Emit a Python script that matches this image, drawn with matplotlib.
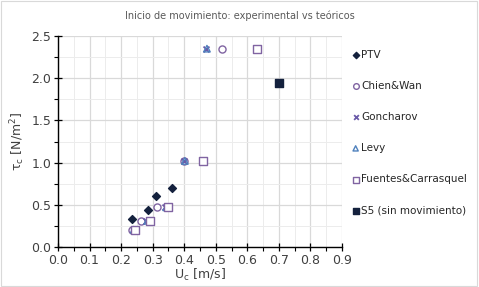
import numpy as np
import matplotlib.pyplot as plt
from matplotlib.ticker import MultipleLocator

# data
ptv_u = [0.233, 0.286, 0.31, 0.362]
ptv_t = [0.33, 0.44, 0.60, 0.70]

chien_u = [0.235, 0.262, 0.314, 0.40, 0.52]
chien_t = [0.205, 0.31, 0.47, 1.02, 2.35]

gonch_u = [0.24, 0.28, 0.34, 0.40, 0.47]
gonch_t = [0.205, 0.31, 0.47, 1.02, 2.35]

levy_u = [0.24, 0.283, 0.343, 0.402, 0.472]
levy_t = [0.205, 0.31, 0.47, 1.02, 2.35]

fuentes_u = [0.245, 0.29, 0.35, 0.46, 0.63]
fuentes_t = [0.205, 0.31, 0.47, 1.02, 2.35]

s5_u = [0.70]
s5_t = [1.94]

fig = plt.figure(figsize=(4.79, 2.87), dpi=100)
ax = fig.add_axes([58/479, 1 - 247/287, (342-58)/479, (247-36)/287])

navy = "#14213d"
purple = "#8064a2"
blue = "#4f81bd"

ax.scatter(ptv_u, ptv_t, marker="D", s=16, color=navy, label="PTV", zorder=3)
ax.scatter(chien_u, chien_t, marker="o", s=26, facecolors="white", edgecolors=purple,
           linewidths=1, label="Chien&Wan", zorder=3)
ax.scatter(gonch_u, gonch_t, marker="x", s=18, color="#6a5aa8", linewidths=1.3,
           label="Goncharov", zorder=3)
ax.scatter(levy_u, levy_t, marker="^", s=22, facecolors="none", edgecolors=blue,
           linewidths=1, label="Levy", zorder=3)
ax.scatter(fuentes_u, fuentes_t, marker="s", s=26, facecolors="white", edgecolors=purple,
           linewidths=1, label="Fuentes&Carrasquel", zorder=3)
ax.scatter(s5_u, s5_t, marker="s", s=30, color=navy, label="S5 (sin movimiento)", zorder=3)

ax.set_xlim(0, 0.9)
ax.set_ylim(0, 2.5)
ax.xaxis.set_major_locator(MultipleLocator(0.1))
ax.xaxis.set_minor_locator(MultipleLocator(0.05))
ax.yaxis.set_major_locator(MultipleLocator(0.5))
ax.yaxis.set_minor_locator(MultipleLocator(0.25))
ax.xaxis.set_major_formatter(lambda v, p: f"{v:.1f}")
ax.yaxis.set_major_formatter(lambda v, p: f"{v:.1f}")
ax.grid(which="major", color="#d9d9d9", lw=0.9)
ax.grid(which="minor", color="#ececec", lw=0.7)
ax.set_axisbelow(True)

for s in ["top", "right"]:
    ax.spines[s].set_visible(False)
for s in ["left", "bottom"]:
    ax.spines[s].set_color("black")
    ax.spines[s].set_linewidth(1.0)
ax.tick_params(which="major", direction="inout", length=6, width=0.9, labelsize=9,
               labelcolor="#404040", pad=2)
ax.tick_params(which="minor", direction="out", length=3, width=0.8)

ax.set_xlabel("U$_\\mathregular{c}$ [m/s]", fontsize=9, color="#404040", labelpad=0)
ax.set_ylabel("τ$_\\mathregular{c}$ [N/m$^\\mathregular{2}$]", fontsize=9, color="#404040", labelpad=3)
fig.text(0.5, 1 - 16/287, "Inicio de movimiento: experimental vs teóricos",
         ha="center", va="center", fontsize=7, color="#595959")

ax.legend(loc="upper left", bbox_to_anchor=(1.015, 0.955), frameon=False, fontsize=7.5,
          labelspacing=2.03, handletextpad=0.05, handlelength=1.0, markerscale=0.8,
          labelcolor="#262626", borderaxespad=0)

fig.patches.append(plt.Rectangle((0.002, 0.004), 0.994, 0.992, transform=fig.transFigure,
                                 fill=False, edgecolor="#d9d9d9", lw=0.8))

fig.savefig("out.png", dpi=100)
